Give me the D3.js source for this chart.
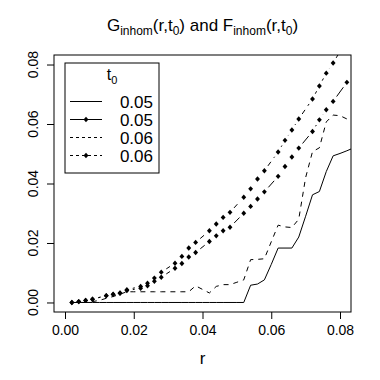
<!DOCTYPE html>
<html>
<head>
<meta charset="utf-8">
<script src="https://cdn.jsdelivr.net/npm/d3@7"></script>
<style>
  body { margin: 0; background: #fff; }
  svg { display: block; font-family: "Liberation Sans", Arial, sans-serif; }
</style>
</head>
<body>
<div id="wrapper"></div>
<script>
// Data
const rValues = [0.002, 0.004, 0.006, 0.008, 0.010, 0.012, 0.014, 0.016, 0.018, 0.020,
  0.022, 0.024, 0.026, 0.028, 0.030, 0.032, 0.034, 0.036, 0.038, 0.040,
  0.042, 0.044, 0.046, 0.048, 0.050, 0.052, 0.054, 0.056, 0.058, 0.060,
  0.062, 0.064, 0.066, 0.068, 0.070, 0.072, 0.074, 0.076, 0.078, 0.080,
  0.082, 0.084];

// G_inhom, t0 = 0.05 (solid)
const gT005 = [0, 0, 0, 0, 0, 0, 0, 0, 0, 0,
  0, 0, 0, 0, 0, 0, 0, 0, 0, 0,
  0, 0, 0, 0, 0, 0, 0.0058, 0.0062, 0.0076, 0.0128,
  0.0183, 0.0183, 0.0183, 0.0220, 0.0290, 0.0362, 0.0373, 0.0440, 0.0493, 0.0501,
  0.0510, 0.0520];

// G_inhom, t0 = 0.06 (dashed)
const gT006 = [0, 0, 0, 0.0003, 0.0007, 0.0014, 0.0020, 0.0028, 0.0036, 0.0036,
  0.0036, 0.0036, 0.0036, 0.0036, 0.0036, 0.0036, 0.0036, 0.0036, 0.0056, 0.0044,
  0.0032, 0.0054, 0.0060, 0.0060, 0.0068, 0.0076, 0.0144, 0.0145, 0.0147, 0.0204,
  0.0260, 0.0254, 0.0252, 0.0280, 0.0420, 0.0507, 0.0520, 0.0607, 0.0630, 0.0628,
  0.0617, 0.0627];

// F_inhom is drawn with points; its r grid skips every fifth value
const fRValues = [0.002, 0.004, 0.006, 0.008, 0.012, 0.014, 0.016, 0.018,
  0.022, 0.024, 0.026, 0.028, 0.032, 0.034, 0.036, 0.038,
  0.042, 0.044, 0.046, 0.048, 0.052, 0.054, 0.056, 0.058,
  0.062, 0.064, 0.066, 0.068, 0.072, 0.074, 0.076, 0.078,
  0.082, 0.084];

// F_inhom, t0 = 0.05 (solid + points)
const fT005 = [0, 0.0003, 0.0007, 0.0011, 0.0023, 0.0027, 0.0031, 0.0040,
  0.0048, 0.0056, 0.0071, 0.0085, 0.0115, 0.0131, 0.0153, 0.0168,
  0.0205, 0.0224, 0.0241, 0.0253, 0.0300, 0.0323, 0.0348, 0.0372,
  0.0424, 0.0457, 0.0489, 0.0519, 0.0575, 0.0614, 0.0648, 0.0676,
  0.0740, 0.0765];

// F_inhom, t0 = 0.06 (dashed + points)
const fT006 = [0, 0.0003, 0.0007, 0.0011, 0.0023, 0.0028, 0.0032, 0.0043,
  0.0054, 0.0065, 0.0082, 0.0102, 0.0132, 0.0155, 0.0183, 0.0202,
  0.0241, 0.0264, 0.0286, 0.0303, 0.0354, 0.0382, 0.0415, 0.0443,
  0.0506, 0.0545, 0.0580, 0.0617, 0.0684, 0.0728, 0.0771, 0.0805,
  0.0883, 0.0920];

const legendLabels = ["0.05", "0.05", "0.06", "0.06"];
const xTicks = [0, 0.02, 0.04, 0.06, 0.08];
const yTicks = [0, 0.02, 0.04, 0.06, 0.08];

// Dimensions
const dimensions = {
  width: 380,
  height: 380,
  margin: { top: 55, right: 29, bottom: 68, left: 54 },
};
dimensions.boundedWidth = dimensions.width - dimensions.margin.left - dimensions.margin.right;
dimensions.boundedHeight = dimensions.height - dimensions.margin.top - dimensions.margin.bottom;

const dashed = "5,5";

const svg = d3.select("#wrapper")
  .append("svg")
  .attr("width", dimensions.width)
  .attr("height", dimensions.height);

const bounds = svg.append("g")
  .attr("transform", `translate(${dimensions.margin.left},${dimensions.margin.top})`);

// Scales (R style: limits 0..0.08 plus 4% on each side)
const xScale = d3.scaleLinear()
  .domain([-0.0032, 0.0832])
  .range([0, dimensions.boundedWidth]);
const yScale = d3.scaleLinear()
  .domain([-0.0032, 0.0832])
  .range([dimensions.boundedHeight, 0]);

svg.append("defs").append("clipPath")
  .attr("id", "plotClip")
  .append("rect")
  .attr("width", dimensions.boundedWidth)
  .attr("height", dimensions.boundedHeight);

const plotArea = bounds.append("g").attr("clip-path", "url(#plotClip)");

// Plain lines (G)
const lineGenerator = d3.line()
  .x((d) => xScale(d[0]))
  .y((d) => yScale(d[1]));

plotArea.append("path")
  .datum(rValues.map((r, i) => [r, gT005[i]]))
  .attr("d", lineGenerator)
  .attr("fill", "none")
  .attr("stroke", "black")
  .attr("stroke-width", 1);

plotArea.append("path")
  .datum(rValues.map((r, i) => [r, gT006[i]]))
  .attr("d", lineGenerator)
  .attr("fill", "none")
  .attr("stroke", "black")
  .attr("stroke-width", 1)
  .attr("stroke-dasharray", dashed);

// type = "b": points with gapped segments between them
const gap = 6;
const diamond = (s) => `M0,${-s}L${s * 0.9},0L0,${s}L${-s * 0.9},0Z`;

const drawPointSeries = (values, dash) => {
  const pts = fRValues.map((r, i) => [xScale(r), yScale(values[i])]);
  const segs = [];
  for (let i = 0; i < pts.length - 1; i++) {
    const [x1, y1] = pts[i];
    const [x2, y2] = pts[i + 1];
    const len = Math.hypot(x2 - x1, y2 - y1);
    if (len > 2 * gap) {
      const ux = (x2 - x1) / len, uy = (y2 - y1) / len;
      segs.push([x1 + ux * gap, y1 + uy * gap, x2 - ux * gap, y2 - uy * gap]);
    }
  }
  const g = plotArea.append("g");
  g.selectAll("line")
    .data(segs)
    .join("line")
    .attr("x1", (d) => d[0]).attr("y1", (d) => d[1])
    .attr("x2", (d) => d[2]).attr("y2", (d) => d[3])
    .attr("stroke", "black")
    .attr("stroke-width", 1)
    .attr("stroke-dasharray", dash);
  g.selectAll("path")
    .data(pts)
    .join("path")
    .attr("d", diamond(2.7))
    .attr("transform", (d) => `translate(${d[0]},${d[1]})`)
    .attr("fill", "black");
};

drawPointSeries(fT005, null);
drawPointSeries(fT006, dashed);

// Box
bounds.append("rect")
  .attr("width", dimensions.boundedWidth)
  .attr("height", dimensions.boundedHeight)
  .attr("fill", "none")
  .attr("stroke", "black")
  .attr("stroke-width", 1);

// Axes
const xAxis = bounds.append("g")
  .attr("transform", `translate(0,${dimensions.boundedHeight})`)
  .call(d3.axisBottom(xScale).tickValues(xTicks).tickFormat(d3.format(".2f")).tickSize(7).tickPadding(6));
xAxis.select(".domain").remove();
xAxis.selectAll("text").attr("font-size", 14).attr("fill", "black")
  .attr("font-family", "Liberation Sans, Arial, sans-serif");

const yAxis = bounds.append("g")
  .call(d3.axisLeft(yScale).tickValues(yTicks).tickSize(7).tickFormat(() => ""));
yAxis.select(".domain").remove();

bounds.append("g")
  .selectAll("text")
  .data(yTicks)
  .join("text")
  .attr("transform", (d) => `translate(-16,${yScale(d)}) rotate(-90)`)
  .attr("text-anchor", "middle")
  .attr("font-size", 14)
  .text(d3.format(".2f"));

// X label
bounds.append("text")
  .attr("x", dimensions.boundedWidth / 2)
  .attr("y", dimensions.boundedHeight + 52)
  .attr("text-anchor", "middle")
  .attr("font-size", 17)
  .text("r");

// Title
const title = svg.append("text")
  .attr("x", dimensions.margin.left + dimensions.boundedWidth / 2)
  .attr("y", 31)
  .attr("text-anchor", "middle")
  .attr("font-size", 17);
const subPart = (txt) => title.append("tspan").attr("font-size", 12).attr("dy", 4).text(txt);
const mainPart = (txt) => title.append("tspan").attr("dy", -4).text(txt);
title.append("tspan").text("G");
subPart("inhom");
mainPart("(r,t");
subPart("0");
mainPart(") and F");
subPart("inhom");
mainPart("(r,t");
subPart("0");
mainPart(")");

// Legend
const legend = svg.append("g").attr("transform", "translate(65,63)");
legend.append("rect")
  .attr("width", 94)
  .attr("height", 110)
  .attr("fill", "white")
  .attr("stroke", "black")
  .attr("stroke-width", 1);
const lt = legend.append("text")
  .attr("x", 47)
  .attr("y", 17)
  .attr("text-anchor", "middle")
  .attr("font-size", 16);
lt.append("tspan").text("t");
lt.append("tspan").attr("font-size", 11).attr("dy", 4).text("0");

const legendRows = legend.selectAll(".row")
  .data(legendLabels)
  .join("g")
  .attr("class", "row")
  .attr("transform", (d, i) => `translate(0,${38.5 + i * 18})`);

legendRows.append("line")
  .attr("x1", 5).attr("x2", 37)
  .attr("stroke", "black")
  .attr("stroke-width", 1)
  .attr("stroke-dasharray", (d, i) => (i >= 2 ? "3,3" : null));
legendRows.filter((d, i) => i % 2 === 1)
  .append("path")
  .attr("d", diamond(2.7))
  .attr("transform", "translate(21,0)")
  .attr("fill", "black");
legendRows.append("text")
  .attr("x", 88)
  .attr("y", 6)
  .attr("text-anchor", "end")
  .attr("font-size", 17)
  .text((d) => d);
</script>
</body>
</html>
